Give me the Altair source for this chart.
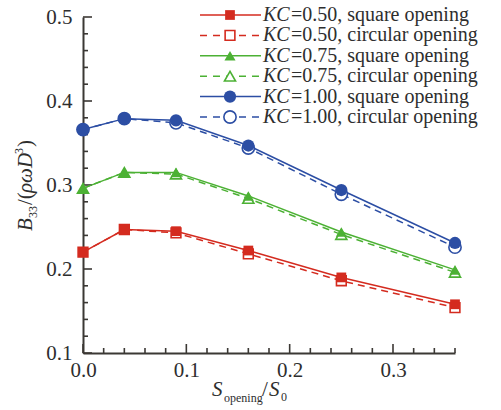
import altair as alt
import pandas as pd

# Opening ratio S_opening / S_0
opening_ratio = [0.0, 0.04, 0.09, 0.16, 0.25, 0.36]

kc_levels = ["0.50", "0.75", "1.00"]

# Nondimensional damping B33/(rho*omega*D^3)
b33_square = {
    "0.50": [0.220, 0.247, 0.245, 0.222, 0.190, 0.158],
    "0.75": [0.296, 0.315, 0.315, 0.287, 0.244, 0.199],
    "1.00": [0.366, 0.379, 0.377, 0.347, 0.294, 0.231],
}
b33_circular = {
    "0.50": [0.220, 0.247, 0.243, 0.218, 0.186, 0.154],
    "0.75": [0.296, 0.315, 0.313, 0.284, 0.241, 0.196],
    "1.00": [0.366, 0.379, 0.374, 0.344, 0.289, 0.226],
}

x_major_ticks = [0.0, 0.1, 0.2, 0.3]
x_minor_ticks = [0.02, 0.04, 0.06, 0.08, 0.12, 0.14, 0.16, 0.18,
                 0.22, 0.24, 0.26, 0.28, 0.32, 0.34, 0.36]
y_major_ticks = [0.1, 0.2, 0.3, 0.4, 0.5]
y_minor_ticks = [0.12, 0.14, 0.16, 0.18, 0.22, 0.24, 0.26, 0.28,
                 0.32, 0.34, 0.36, 0.38, 0.42, 0.44, 0.46, 0.48]

legend_rest = {
    ("0.50", "square"): "=0.50, square opening",
    ("0.50", "circular"): "=0.50, circular opening",
    ("0.75", "square"): "=0.75, square opening",
    ("0.75", "circular"): "=0.75, circular opening",
    ("1.00", "square"): "=1.00, square opening",
    ("1.00", "circular"): "=1.00, circular opening",
}

line_colors = ["#d42b1f", "#4cb134", "#2c4ea4"]
marker_shapes = ["square", "triangle-up", "circle"]
marker_sizes = [95, 150, 225]

SERIF = "Liberation Serif"
AXIS_COLOR = "#3b3834"
TEXT_COLOR = "#2e2e2e"
W, H = 372, 336

# ---- tables -------------------------------------------------------------
rows = []
for kc in kc_levels:
    for xv, ys, yc in zip(opening_ratio, b33_square[kc], b33_circular[kc]):
        rows.append({"x": xv, "y": ys, "kc": kc, "opening": "square"})
        rows.append({"x": xv, "y": yc, "kc": kc, "opening": "circular"})
df = pd.DataFrame(rows)
sq = df[df.opening == "square"]
ci = df[df.opening == "circular"]

leg_rows = []
i = 0
for kc in kc_levels:
    for op in ["square", "circular"]:
        leg_rows.append({"row": i, "kc": kc, "opening": op,
                         "rest": legend_rest[(kc, op)]})
        i += 1
leg = pd.DataFrame(leg_rows)
leg_sq = leg[leg.opening == "square"]
leg_ci = leg[leg.opening == "circular"]

# ---- scales ---------------------------------------------------------------
xscale = alt.Scale(domain=[0, 0.36], nice=False, zero=False)
yscale = alt.Scale(domain=[0.1, 0.5], nice=False, zero=False)
color = alt.Color("kc:N", scale=alt.Scale(domain=kc_levels, range=line_colors), legend=None)
shape = alt.Shape("kc:N", scale=alt.Scale(domain=kc_levels, range=marker_shapes), legend=None)
size = alt.Size("kc:O", scale=alt.Scale(domain=kc_levels, range=marker_sizes), legend=None)

X = alt.X("x:Q", scale=xscale, axis=None)
Y = alt.Y("y:Q", scale=yscale, axis=None)

x_axis = alt.Axis(values=x_major_ticks, format=".1f", ticks=False, tickSize=0,
                  labelPadding=6, labelFlush=False, domainColor=AXIS_COLOR, domainWidth=2,
                  labelFont=SERIF, labelFontSize=21, labelColor=TEXT_COLOR,
                  grid=False, title=None)
y_axis = alt.Axis(values=y_major_ticks, format=".1f", ticks=False, tickSize=0,
                  labelPadding=11, labelFlush=False, domainColor=AXIS_COLOR, domainWidth=2,
                  labelFont=SERIF, labelFontSize=21, labelColor=TEXT_COLOR,
                  grid=False, title=None)

# axes (labels + domain line)
axes_layer = alt.Chart(pd.DataFrame({"x": [0.0, 0.36], "y": [0.1, 0.5]})).mark_point(
    opacity=0).encode(
    x=alt.X("x:Q", scale=xscale, axis=x_axis),
    y=alt.Y("y:Q", scale=yscale, axis=y_axis),
)

# inward tick marks
def yticks(vals, length):
    return alt.Chart(pd.DataFrame({"y": vals})).mark_rule(
        color=AXIS_COLOR, strokeWidth=1.6).encode(
        y=Y, x=alt.value(0), x2=alt.value(length))

def xticks(vals, length):
    return alt.Chart(pd.DataFrame({"x": vals})).mark_rule(
        color=AXIS_COLOR, strokeWidth=1.6).encode(
        x=X, y=alt.value(H), y2=alt.value(H - length))

# data series
lines_ci = alt.Chart(ci).mark_line(strokeWidth=1.5, strokeDash=[7, 5]).encode(
    x=X, y=Y, color=color, detail="kc:N")
lines_sq = alt.Chart(sq).mark_line(strokeWidth=1.5).encode(
    x=X, y=Y, color=color, detail="kc:N")
pts_ci = alt.Chart(ci).mark_point(filled=False, opacity=1, strokeWidth=1.6).encode(
    x=X, y=Y, color=color, shape=shape, size=size, fill=alt.value("white"))
pts_sq = alt.Chart(sq).mark_point(filled=True, opacity=1).encode(
    x=X, y=Y, color=color, shape=shape, size=size)

# legend block
LEG_Y = alt.Y("row:Q", scale=alt.Scale(domain=[0, 5], range=[-2, 100], nice=False, zero=False),
              axis=None)
LX0, LX1, LXM = 200 - 83, 261 - 83, 230 - 83
leg_line_sq = alt.Chart(leg_sq).mark_rule(strokeWidth=1.5).encode(
    y=LEG_Y, x=alt.value(LX0), x2=alt.value(LX1), color=color)
leg_line_ci = alt.Chart(leg_ci).mark_rule(strokeWidth=1.5, strokeDash=[7, 6]).encode(
    y=LEG_Y, x=alt.value(LX0), x2=alt.value(LX1), color=color)
leg_pt_ci = alt.Chart(leg_ci).mark_point(filled=False, opacity=1, strokeWidth=1.6).encode(
    y=LEG_Y, x=alt.value(LXM), color=color, shape=shape, size=size, fill=alt.value("white"))
leg_pt_sq = alt.Chart(leg_sq).mark_point(filled=True, opacity=1).encode(
    y=LEG_Y, x=alt.value(LXM), color=color, shape=shape, size=size)
leg_kc = alt.Chart(leg).mark_text(
    text="KC", font=SERIF, fontSize=20, fontStyle="italic", align="left",
    baseline="middle", color=TEXT_COLOR).encode(y=LEG_Y, x=alt.value(263 - 83))
leg_rest = alt.Chart(leg).mark_text(
    font=SERIF, fontSize=20, align="left", baseline="middle", color=TEXT_COLOR).encode(
    y=LEG_Y, x=alt.value(291 - 83), text="rest:N")

# axis titles built from pieces (italic symbols, sub/superscripts)
one = pd.DataFrame({"a": [0]})

def piece(txt, x, y, size, italic=False, angle=0):
    kw = dict(text=txt, font=SERIF, fontSize=size, align="left",
              baseline="alphabetic", color=TEXT_COLOR)
    if italic:
        kw["fontStyle"] = "italic"
    if angle:
        kw["angle"] = angle
    return alt.Chart(one).mark_text(**kw).encode(x=alt.value(x), y=alt.value(y))

OX, OY = 83, 17
xt_base = 396
x_title = [
    piece("S", 212 - OX, xt_base - OY, 21, italic=True),
    piece("opening", 224 - OX, xt_base + 6 - OY, 12),
    piece("/", 262 - OX, xt_base - OY, 21),
    piece("S", 269 - OX, xt_base - OY, 21, italic=True),
    piece("0", 281 - OX, xt_base + 5 - OY, 12),
]

yb = 32 - OX  # baseline column of rotated title
y_title = [
    piece("B", yb, 231 - OY, 21, italic=True, angle=270),
    piece("33", yb + 5, 218 - OY, 12, angle=270),
    piece("/(", yb, 205 - OY, 21, angle=270),
    piece("ρωD", yb, 193 - OY, 21, italic=True, angle=270),
    piece("3", yb - 9, 154 - OY, 12, angle=270),
    piece(")", yb, 147 - OY, 21, angle=270),
]

layers = [axes_layer, yticks(y_major_ticks, 9), yticks(y_minor_ticks, 5),
          xticks(x_major_ticks, 9), xticks(x_minor_ticks, 5),
          lines_ci, lines_sq, pts_ci, pts_sq,
          leg_line_sq, leg_line_ci, leg_pt_ci, leg_pt_sq, leg_kc, leg_rest] + x_title + y_title

chart = alt.layer(*layers).resolve_scale(x="independent", y="independent").properties(
    width=W, height=H,
    autosize=alt.AutoSizeParams(type="none"),
    padding={"left": OX, "top": OY, "right": 501 - OX - W, "bottom": 410 - OY - H},
    background="white",
).configure_view(stroke=None)

chart.save("out.html", embed_options={"renderer": "svg", "actions": False})
